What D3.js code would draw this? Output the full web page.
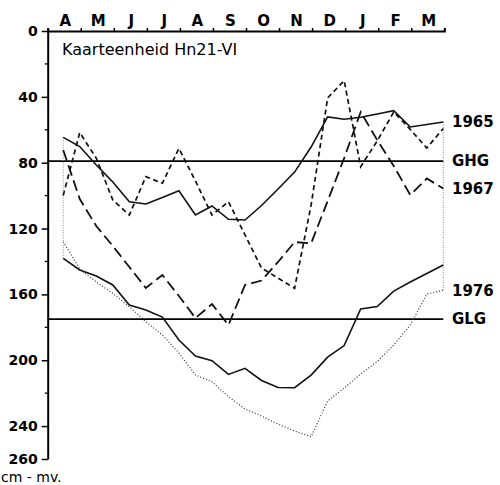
<!DOCTYPE html>
<html><head><meta charset="utf-8">
<script src="https://cdn.jsdelivr.net/npm/d3@7"></script>
<style>body{margin:0;background:#fff}</style>
</head><body>
<svg id="c" width="500" height="485"></svg>
<script>
// ---- data ----
const months = ["A","M","J","J","A","S","O","N","D","J","F","M"];
// measurement moments, in months since 1 April (two per month)
const sampleT = [0.47,0.97,1.47,1.97,2.47,2.97,3.47,3.97,4.47,4.97,5.47,5.97,
                 6.47,6.97,7.47,7.97,8.47,8.97,9.47,9.97,10.47,10.97,11.47,11.97];
// groundwater depth, cm below surface
const depth1965 = [64.6,70.2,81.4,91.7,103.7,105.1,101.2,97.0,111.8,106.3,114.4,114.8,
                   106.0,96.0,85.7,70.5,52.2,53.6,52.4,50.4,48.4,58.3,56.8,55.3];
const depthShortDash = [99.9,61.7,77.3,102.7,111.8,88.5,92.5,71.3,91.1,111.8,103.7,123.9,
                        144.0,150.1,156.3,105.7,40.7,30.1,82.4,66.8,49.2,59.8,71.1,59.2];
const depth1967 = [72.3,102.1,118.5,130.6,143.4,156.1,148.2,161.0,174.4,165.9,178.6,154.3,
                   151.6,140.3,128.2,129.0,103.3,77.2,49.2,66.2,82.0,99.6,89.6,95.7];
const depthLowSolid = [138.1,145.2,148.8,154.3,166.5,169.5,173.8,187.7,197.4,200.3,208.6,204.9,
                       212.3,216.6,216.7,209.0,198.1,191.1,168.9,167.4,158.0,152.5,147.3,142.2];
const depth1976 = [128.0,144.6,152.5,159.4,167.5,176.6,184.7,195.6,209.0,213.1,222.2,229.6,
                   233.9,238.8,243.0,246.5,224.8,216.9,208.4,200.8,190.8,178.6,159.8,157.4];
const yTickLabels = [0,40,80,120,160,200,240,260];
const yMinorTicks = [20,60,100,140,180,220];
const GHG = 79, GLG = 175;
const title = "Kaarteenheid Hn21-VI";
const unitLabel = "cm - mv.";

// ---- drawing ----
const svg = d3.select("#c");
const x = d3.scaleLinear().domain([0, 12]).range([47.7, 444.3]);
const y = d3.scaleLinear().domain([0, 260]).range([31, 459]);
const FONT = "DejaVu Sans, Liberation Sans, sans-serif";

// reference lines GHG / GLG
[[GHG,"GHG"],[GLG,"GLG"]].forEach(([v,lab]) => {
  svg.append("line").attr("x1", x(0)).attr("x2", x(11.97)).attr("y1", y(v)).attr("y2", y(v))
     .attr("stroke","#000").attr("stroke-width",1.8);
  svg.append("text").attr("x", 452).attr("y", y(v)).attr("dy","0.36em")
     .attr("font-family",FONT).attr("font-weight","bold").attr("font-size",15).text(lab);
});

// dotted connectors at first and last sample
const allSeries = [depth1965, depthShortDash, depth1967, depthLowSolid, depth1976];
[0, sampleT.length-1].forEach(i => {
  const vals = allSeries.map(s => s[i]);
  svg.append("line").attr("x1", x(sampleT[i])).attr("x2", x(sampleT[i]))
    .attr("y1", y(d3.min(vals))).attr("y2", y(d3.max(vals)))
    .attr("stroke","#888").attr("stroke-width",1).attr("stroke-dasharray","1,1.5");
});

const line = d3.line().x((d,i) => x(sampleT[i])).y(d => y(d));
const styles = [
  {data: depth1965, dash: null, w: 1.6, c: "#111"},
  {data: depthShortDash, dash: "5,3.5", w: 1.7, c: "#111"},
  {data: depth1967, dash: "11,5", w: 1.8, c: "#111"},
  {data: depthLowSolid, dash: null, w: 1.6, c: "#111"},
  {data: depth1976, dash: "1,2", w: 1.2, c: "#333"}
];
styles.forEach(s => {
  svg.append("path").attr("d", line(s.data)).attr("fill","none")
    .attr("stroke", s.c).attr("stroke-width", s.w)
    .attr("stroke-dasharray", s.dash).attr("stroke-linejoin","miter");
});

// series labels at the right
[[depth1965,"1965"],[depth1967,"1967"],[depth1976,"1976"]].forEach(([s,lab]) => {
  svg.append("text").attr("x", 452).attr("y", y(s[s.length-1])).attr("dy","0.36em")
    .attr("font-family",FONT).attr("font-weight","bold").attr("font-size",15).text(lab);
});

// top axis (months)
const topAxis = svg.append("g").attr("transform", `translate(0,${y(0)})`)
  .call(d3.axisTop(x).tickValues(d3.range(0,13)).tickSize(3).tickFormat(""));
topAxis.select(".domain").attr("stroke-width",2);
topAxis.selectAll(".tick line").attr("stroke-width",1.5);
svg.selectAll(".month").data(months).join("text")
  .attr("x", (d,i) => x(i+0.5)+1).attr("y", 26)
  .attr("text-anchor","middle").attr("font-family",FONT).attr("font-weight","bold")
  .attr("font-size",15).text(d => d);

// left axis
const leftAxis = svg.append("g").attr("transform", `translate(${x(0)},0)`)
  .call(d3.axisLeft(y).tickValues(yTickLabels).tickSize(6).tickPadding(4).tickSizeOuter(0));
leftAxis.select(".domain").attr("stroke-width",2);
leftAxis.selectAll(".tick line").attr("stroke-width",1.5);
leftAxis.selectAll(".tick text").attr("font-family",FONT).attr("font-weight","bold")
  .attr("font-size",14).attr("fill","#000");
svg.append("g").selectAll("line").data(yMinorTicks).join("line")
  .attr("x1", x(0)-3).attr("x2", x(0)).attr("y1", d => y(d)).attr("y2", d => y(d))
  .attr("stroke","#000").attr("stroke-width",1.3);

// title and unit
svg.append("text").attr("x", 62).attr("y", 55).attr("font-family",FONT)
  .attr("font-size",16).text(title);
svg.append("text").attr("x", 1).attr("y", 481.5).attr("font-family",FONT)
  .attr("font-size",14).text(unitLabel);
</script>
</body></html>
